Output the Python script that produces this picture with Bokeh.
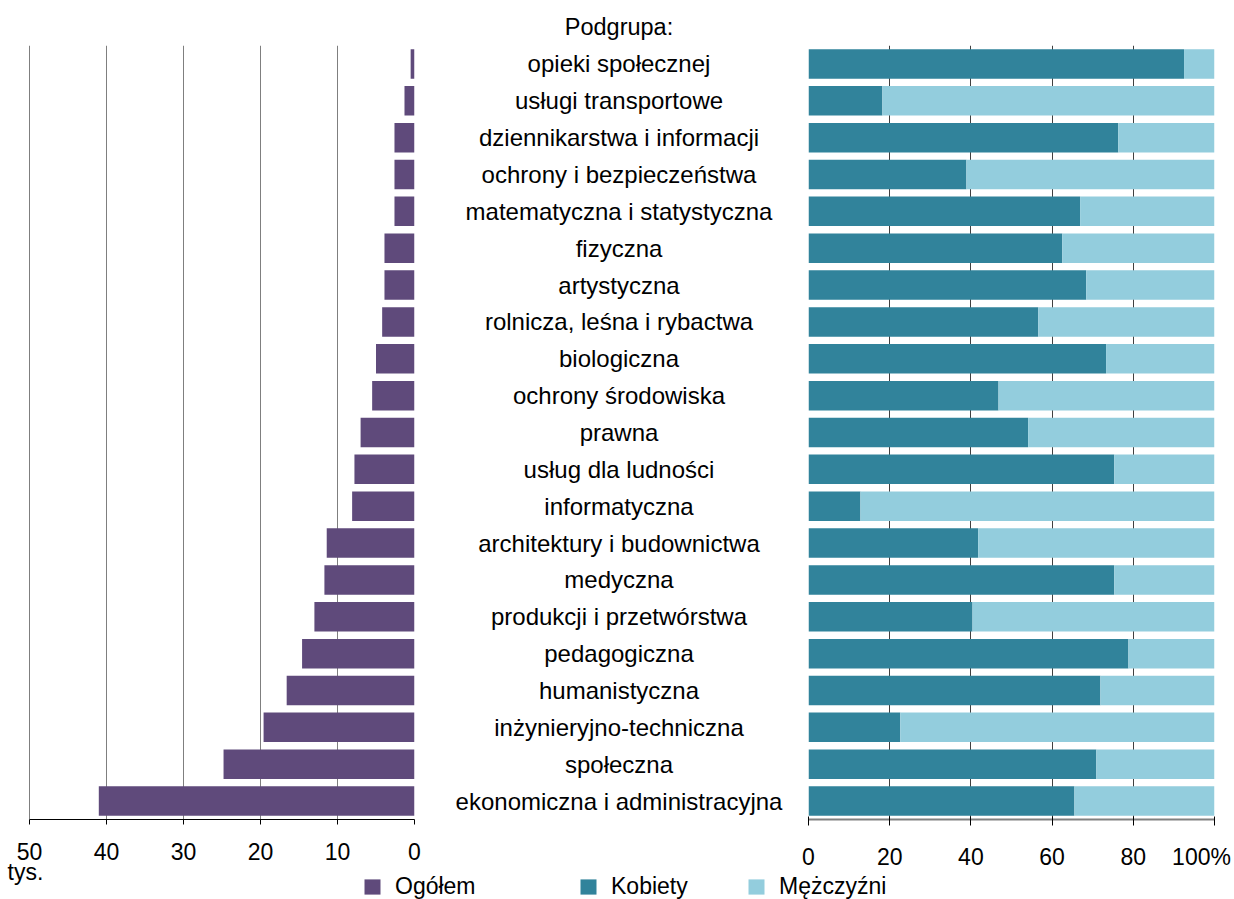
from bokeh.plotting import figure
from bokeh.layouts import row
from bokeh.models import (ColumnDataSource, FactorRange, Range1d, FixedTicker,
                          Span, Label, Legend, LegendItem, GridBox)
from bokeh.embed import file_html
from bokeh.resources import INLINE
from bokeh.core.properties import value

# ---------------- data (top to bottom as in the chart) ----------------
categories = [
    "opieki społecznej", "usługi transportowe", "dziennikarstwa i informacji",
    "ochrony i bezpieczeństwa", "matematyczna i statystyczna", "fizyczna",
    "artystyczna", "rolnicza, leśna i rybactwa", "biologiczna",
    "ochrony środowiska", "prawna", "usług dla ludności", "informatyczna",
    "architektury i budownictwa", "medyczna", "produkcji i przetwórstwa",
    "pedagogiczna", "humanistyczna", "inżynieryjno-techniczna", "społeczna",
    "ekonomiczna i administracyjna",
]
ogolem = [0.5, 1.3, 2.6, 2.6, 2.6, 3.9, 3.9, 4.2, 5.0, 5.5, 7.0, 7.8, 8.1,
          11.4, 11.7, 13.0, 14.6, 16.6, 19.6, 24.8, 41.0]
kobiety = [92.5, 18.2, 76.3, 38.9, 66.9, 62.5, 68.4, 56.6, 73.3, 46.8, 54.1,
           75.3, 12.8, 41.8, 75.3, 40.4, 78.8, 71.9, 22.6, 70.9, 65.5]
mezczyzni = [7.5, 81.8, 23.7, 61.1, 33.1, 37.5, 31.6, 43.4, 26.7, 53.2, 45.9,
             24.7, 87.2, 58.2, 24.7, 59.6, 21.2, 28.1, 77.4, 29.1, 34.5]
left_ticks = [0, 10, 20, 30, 40, 50]
right_ticks = [0, 20, 40, 60, 80, 100]
right_tick_labels = ["0", "20", "40", "60", "80", "100%"]
legend_labels = ["Ogółem", "Kobiety", "Mężczyźni"]
header_text = "Podgrupa:"
unit_text = "tys."

# ---------------- style / placement ----------------
FONT = "Liberation Sans"
FS = "23px"
FS_CAT = "24px"
FS_HEAD = "23.5px"
PURPLE = "#5f4a7b"
TEAL = "#31839b"
LIGHT = "#93cddd"
W, H = 1234, 899
# the last right-hand label is pulled inwards so that it stays on the page
LAST_LABEL_POS = 96.8

factors = list(reversed(categories))
src = ColumnDataSource(dict(cat=categories, ogolem=ogolem,
                            kobiety=kobiety, mezczyzni=mezczyzni))
common = dict(output_backend="svg", toolbar_location=None)

# ---------------- left chart ----------------
left = figure(width=440, height=H, x_range=Range1d(50, 0),
              y_range=FactorRange(factors=factors), y_axis_location=None,
              min_border_left=29, min_border_right=26, min_border_top=45,
              min_border_bottom=H - 45 - 774, **common)
left.hbar(y="cat", left=0, right="ogolem", height=0.8, source=src,
          fill_color=PURPLE, line_color=None)
left.xaxis.ticker = FixedTicker(ticks=left_ticks)
left.xaxis.minor_tick_line_color = None
left.xaxis.axis_line_color = "black"
left.xaxis.major_tick_line_color = "black"
left.xaxis.major_tick_in = 0
left.xaxis.major_tick_out = 5
left.xaxis.major_label_standoff = 18
left.xaxis.major_label_text_font = FONT
left.xaxis.major_label_text_font_size = FS
left.xaxis.major_label_text_color = "black"
left.xgrid.grid_line_color = "#7f7f7f"
left.ygrid.visible = False
left.outline_line_color = None
left.add_layout(Span(location=left_ticks[-1], dimension="height",
                     line_color="black", line_width=1))

# ---------------- middle labels ----------------
mid = figure(width=357, height=H, x_range=Range1d(0, 1),
             y_range=left.y_range, x_axis_location=None, y_axis_location=None,
             min_border_left=0, min_border_right=0, min_border_top=45,
             min_border_bottom=H - 45 - 774, **common)
mid.text(x=0.5, y="cat", text="cat", source=src, text_align="center",
         text_baseline="middle", text_font=value(FONT),
         text_font_size=value(FS_CAT), text_color="black")
mid.title.text = header_text
mid.title.align = "center"
mid.title.text_font = FONT
mid.title.text_font_size = FS_HEAD
mid.title.text_font_style = "normal"
mid.title.text_color = "black"
mid.title.standoff = 12
mid.grid.visible = False
mid.outline_line_color = None

# ---------------- right chart ----------------
right = figure(width=W - 440 - 357, height=H, x_range=Range1d(0, 100),
               y_range=FactorRange(factors=factors), y_axis_location=None,
               min_border_left=11, min_border_right=W - 1214, min_border_top=39,
               min_border_bottom=H - 39 - 784, **common)
right.hbar_stack(["kobiety", "mezczyzni"], y="cat", height=0.8, source=src,
                 fill_color=[TEAL, LIGHT], line_color=None)
label_pos = right_ticks[:-1] + [LAST_LABEL_POS]
right.xaxis.ticker = FixedTicker(ticks=label_pos, minor_ticks=right_ticks)
right.xaxis.major_label_overrides = {p: t for p, t in zip(label_pos, right_tick_labels)}
right.xaxis.major_tick_line_color = None
right.xaxis.major_tick_in = 0
right.xaxis.major_tick_out = 6
right.xaxis.minor_tick_line_color = "black"
right.xaxis.minor_tick_in = 3
right.xaxis.minor_tick_out = 6
right.xaxis.axis_line_color = "#808080"
right.xaxis.axis_line_width = 2
right.xaxis.major_label_standoff = 18
right.xaxis.major_label_text_font = FONT
right.xaxis.major_label_text_font_size = FS
right.xaxis.major_label_text_color = "black"
right.xgrid.ticker = FixedTicker(ticks=right_ticks)
right.xgrid.grid_line_color = "#404040"
right.ygrid.visible = False
right.outline_line_color = None

main = row(left, mid, right)

# ---------------- transparent overlay: unit + legend ----------------
overlay = figure(width=W, height=H, x_range=Range1d(0, W), y_range=Range1d(H, 0),
                 x_axis_location=None, y_axis_location=None, min_border=0,
                 background_fill_alpha=0, border_fill_alpha=0, **common)
overlay.grid.visible = False
overlay.outline_line_color = None
overlay.add_layout(Label(x=7, y=871, text=unit_text, text_align="left",
                         text_baseline="alphabetic", text_font=FONT,
                         text_font_size=FS, text_color="black"))
legend_colors = [PURPLE, TEAL, LIGHT]
legend_x = [362, 578, 746]
for lab, col, lx in zip(legend_labels, legend_colors, legend_x):
    proxy = overlay.hbar(y=[0], right=[0], height=0, fill_color=col,
                         line_color=None, visible=False)
    lg = Legend(items=[LegendItem(label=lab, renderers=[proxy])],
                location=(lx, -1), orientation="horizontal", padding=0,
                margin=0, spacing=0, glyph_width=20, glyph_height=19,
                label_standoff=13, label_text_font=FONT,
                label_text_font_size=FS, label_text_color="black",
                label_text_baseline="alphabetic", border_line_color=None,
                background_fill_alpha=0)
    overlay.add_layout(lg)

layout = GridBox(children=[(main, 0, 0), (overlay, 0, 0)])
open("out.html", "w").write(file_html(layout, INLINE))
